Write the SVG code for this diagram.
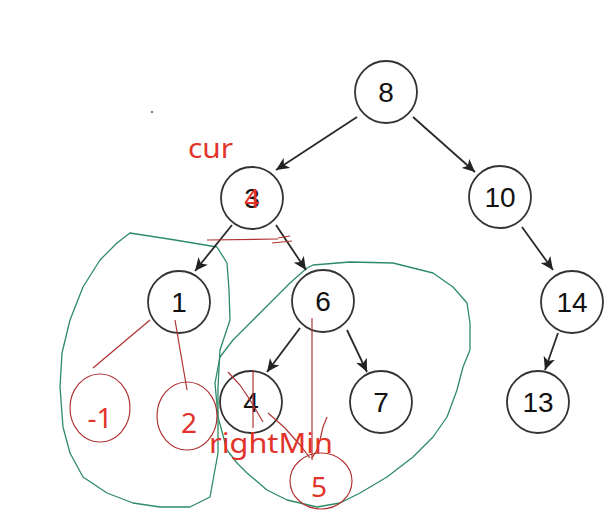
<svg xmlns="http://www.w3.org/2000/svg" width="615" height="519" viewBox="0 0 615 519">
<defs>
<marker id="arr" markerUnits="userSpaceOnUse" markerWidth="14" markerHeight="12" refX="13" refY="6" orient="auto">
<path d="M0,0 L13,6 L0,12 L3.5,6 Z" fill="#222"/>
</marker>
</defs>
<style>
.node circle{fill:#fff;stroke:#333;stroke-width:1.8}
.node text{font-family:"Liberation Sans",Arial,sans-serif;font-size:28px;fill:#111;text-anchor:middle}
.edge{stroke:#2a2a2a;stroke-width:1.8;fill:none;marker-end:url(#arr)}
.green{fill:none;stroke:#2e8b68;stroke-width:1.3;stroke-linejoin:round}
.ann{fill:none;stroke:#b03434;stroke-width:1.2}
.rtext{font-family:"Noto Sans","Open Sans",sans-serif;font-size:27px;fill:#e2332b}
.rnum{font-family:"Noto Sans","Open Sans",sans-serif;font-size:28px;fill:#e2332b;text-anchor:middle}
</style>
<rect width="615" height="519" fill="#fff"/>
<g id="annotations-green">
<path class="green" d="M130,233 L175,240 L217,247 L227,263 L229,290 L230,320 L220,350 L218,387 L218,420 L218,453 L210,497 L190,507 L160,507 L133,503 L107,493 L83,477 L70,453 L63,427 L60,387 L62,353 L70,320 L83,287 L100,260 L117,243 Z"/>
<path class="green" d="M307,268 L313,265 L350,262 L393,263 L433,273 L453,287 L467,303 L470,323 L470,350 L463,367 L457,390 L447,417 L433,437 L413,457 L387,477 L360,493 L340,503 L317,507 L287,500 L267,490 L247,473 L237,463 L227,450 L218,417 L215,383 L220,357 L233,340 L250,323 L273,300 L290,283 Z"/>
</g>
<g id="connectors">
<line class="edge" x1="357" y1="117" x2="276" y2="170"/>
<line class="edge" x1="413" y1="117" x2="475" y2="172"/>
<line class="edge" x1="522" y1="227" x2="553" y2="270"/>
<line class="edge" x1="558" y1="333" x2="545" y2="370"/>
<line class="edge" x1="232" y1="225" x2="195" y2="271"/>
<line class="edge" x1="276" y1="225" x2="306" y2="270"/>
<line class="edge" x1="300" y1="328" x2="267" y2="372"/>
<line class="edge" x1="347" y1="330" x2="367" y2="372"/>
</g>
<g id="node-8" class="node"><circle cx="386" cy="92" r="31"/><text x="386" y="102">8</text></g>
<g id="node-3" class="node"><circle cx="252" cy="198" r="31"/><text x="252" y="208">3</text><text x="252" y="208" style="fill:#e2332b">4</text></g>
<g id="node-10" class="node"><circle cx="500" cy="197" r="31"/><text x="500" y="207">10</text></g>
<g id="node-1" class="node"><circle cx="179" cy="302" r="31"/><text x="179" y="312">1</text></g>
<g id="node-6" class="node"><circle cx="323" cy="301" r="31"/><text x="323" y="311">6</text></g>
<g id="node-14" class="node"><circle cx="572" cy="302" r="31"/><text x="572" y="312">14</text></g>
<g id="node-4" class="node"><circle cx="251" cy="402" r="31"/><text x="251" y="412">4</text></g>
<g id="node-7" class="node"><circle cx="381" cy="402" r="31"/><text x="381" y="412">7</text></g>
<g id="node-13" class="node"><circle cx="538" cy="402" r="31"/><text x="538" y="412">13</text></g>
<g id="annotations-red">
<path class="ann" d="M207,240 L278,239 M272,243 L292,241 M278,238 L290,236"/>
<line class="ann" x1="150" y1="320" x2="93" y2="368"/>
<line class="ann" x1="175" y1="320" x2="187" y2="390"/>
<line class="ann" x1="312" y1="318" x2="312" y2="460"/>
<line class="ann" x1="253" y1="370" x2="253" y2="428"/>
<path class="ann" d="M228,372 L240,385 L250,400 L256,410 L263,422"/>
<path class="ann" d="M268,413 L285,428 L300,445 L310,458"/>
<path class="ann" d="M327,417 L323,427 L320,440 L317,450 L312,458"/>
<ellipse class="ann" cx="100" cy="408" rx="30" ry="34"/>
<ellipse class="ann" cx="187" cy="416" rx="30" ry="34"/>
<ellipse class="ann" cx="321" cy="481" rx="31" ry="28"/>
<text class="rnum" x="100" y="428">-1</text>
<text class="rnum" x="189" y="433">2</text>
<text class="rnum" x="319" y="497">5</text>
<text class="rtext" x="188" y="158" textLength="45" lengthAdjust="spacingAndGlyphs">cur</text>
<text class="rtext" x="209" y="453" textLength="124" lengthAdjust="spacingAndGlyphs">rightMin</text>
</g>
<circle cx="152" cy="112" r="1" fill="#444"/>
</svg>
